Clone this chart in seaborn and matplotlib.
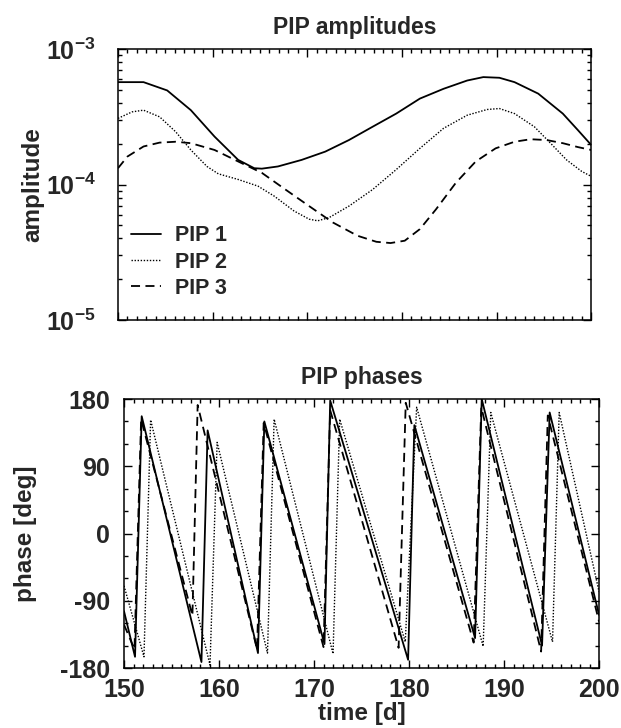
import numpy as np
import pandas as pd
import matplotlib
matplotlib.use('Agg')
import matplotlib.pyplot as plt
import seaborn as sns
from matplotlib.ticker import MultipleLocator, LogLocator, FuncFormatter, NullFormatter

# ---------------- amplitude data ----------------
amp_t1 = [150.0, 152.7, 155.2, 157.7, 160.2, 162.7, 164.4, 165.2, 166.9, 169.4, 171.9, 174.4,
          176.9, 179.4, 181.9, 184.4, 186.9, 188.6, 190.3, 191.9, 194.4, 197.0, 198.6, 200.0]
amp_1 = [5.70e-4, 5.70e-4, 4.95e-4, 3.54e-4, 2.26e-4, 1.52e-4, 1.32e-4, 1.31e-4, 1.36e-4, 1.52e-4,
         1.75e-4, 2.13e-4, 2.67e-4, 3.34e-4, 4.31e-4, 5.09e-4, 5.86e-4, 6.21e-4, 6.14e-4, 5.70e-4,
         4.69e-4, 3.34e-4, 2.52e-4, 1.96e-4]

amp_t2 = [150.0, 151.5, 152.7, 154.4, 156.1, 157.7, 159.4, 160.6, 162.7, 164.8, 166.5, 168.6,
          170.2, 171.1, 172.3, 174.4, 176.9, 179.4, 181.9, 184.4, 186.9, 189.0, 190.3, 191.9,
          194.0, 195.7, 197.4, 199.0, 200.0]
amp_2 = [3.08e-4, 3.44e-4, 3.54e-4, 3.16e-4, 2.45e-4, 1.80e-4, 1.36e-4, 1.20e-4, 1.09e-4, 9.73e-5,
         8.22e-5, 6.38e-5, 5.55e-5, 5.40e-5, 5.70e-5, 6.93e-5, 9.18e-5, 1.29e-4, 1.85e-4, 2.60e-4,
         3.25e-4, 3.58e-4, 3.64e-4, 3.34e-4, 2.67e-4, 2.02e-4, 1.52e-4, 1.25e-4, 1.15e-4]

amp_t3 = [150.0, 151.0, 152.7, 154.4, 156.1, 157.7, 160.2, 162.7, 165.2, 167.7, 170.2, 172.7,
          175.3, 177.3, 178.8, 180.3, 181.9, 183.6, 185.7, 187.8, 189.9, 191.9, 193.6, 195.3,
          197.0, 198.6, 200.0]
amp_3 = [1.32e-4, 1.61e-4, 1.91e-4, 2.04e-4, 2.07e-4, 2.02e-4, 1.80e-4, 1.48e-4, 1.22e-4, 9.18e-5,
         6.93e-5, 5.25e-5, 4.19e-5, 3.78e-5, 3.70e-5, 3.85e-5, 4.69e-5, 6.56e-5, 1.03e-4, 1.48e-4,
         1.85e-4, 2.07e-4, 2.16e-4, 2.13e-4, 2.02e-4, 1.89e-4, 1.80e-4]

# ---------------- phase data ----------------
ph_t1 = [150.0, 151.16, 151.86, 158.15, 158.8, 164.1, 164.77, 171.1, 171.7, 179.9, 180.56,
         186.95, 187.65, 194.0, 194.8, 200.0]
ph_1 = [-104, -165, 157, -172, 138, -160, 150, -148, 178, -169, 145, -140, 180, -150, 162, -109]

ph_t2 = [150.0, 152.1, 152.8, 159.05, 159.8, 165.1, 165.8, 172.0, 172.7, 179.6, 180.8,
         187.8, 188.6, 195.1, 195.8, 200.0]
ph_2 = [-70, -165, 152, -176, 122, -160, 153, -161, 153, -145, 169, -151, 162, -145, 162, -78]

ph_t3 = [150.0, 151.1, 151.8, 157.2, 157.75, 164.0, 164.7, 171.0, 171.7, 178.9, 179.65,
         186.8, 187.6, 193.9, 194.6, 200.0]
ph_3 = [-122, -155, 153, -110, 172, -155, 148, -152, 165, -153, 175, -146, 169, -158, 158, -118]

labels = ['PIP 1', 'PIP 2', 'PIP 3']
xticks = [150, 160, 170, 180, 190, 200]
yticks_phase = [-180, -90, 0, 90, 180]

# ---------------- styling ----------------
sns.set_theme(style='ticks')
plt.rcParams['font.family'] = ['Liberation Sans', 'DejaVu Sans']
plt.rcParams['font.weight'] = 'bold'
plt.rcParams['mathtext.fontset'] = 'custom'
plt.rcParams['mathtext.rm'] = 'Liberation Sans:bold'
plt.rcParams['mathtext.bf'] = 'Liberation Sans:bold'
plt.rcParams['mathtext.default'] = 'bf'
plt.rcParams['axes.linewidth'] = 1.1
plt.rcParams['axes.unicode_minus'] = False

FS_T = 16.5   # titles
FS_L = 17.5   # axis labels
FS_K = 18     # tick labels
FS_G = 15.5   # legend
styles = [dict(ls='-', lw=1.3), dict(ls=(0, (1, 1.2)), lw=1.0), dict(ls=(0, (5, 3)), lw=1.3)]

fig = plt.figure(figsize=(6.21, 7.28), dpi=100)
ax1 = fig.add_axes([0.190, 0.5604, 0.762, 0.3722])
ax2 = fig.add_axes([0.1997, 0.0824, 0.765, 0.3695])

# ---------------- amplitudes ----------------
ax1.set_yscale('log')
for t, a, lab, st in zip([amp_t1, amp_t2, amp_t3], [amp_1, amp_2, amp_3], labels, styles):
    df = pd.DataFrame({'time': t, 'amp': a})
    sns.lineplot(data=df, x='time', y='amp', ax=ax1, color='black', label=lab,
                 estimator=None, legend=False, **st)
ax1.set_xlim(150, 200)
ax1.set_ylim(1e-5, 1e-3)
ax1.set_xlabel('')
ax1.set_ylabel('amplitude', fontsize=FS_L, fontweight='bold', va='center')
ax1.yaxis.set_label_coords(-0.18, 0.5)
ax1.set_title('PIP amplitudes', fontsize=FS_T, fontweight='bold', pad=11)
ax1.xaxis.set_major_locator(MultipleLocator(10))
ax1.xaxis.set_minor_locator(MultipleLocator(1))
ax1.xaxis.set_major_formatter(NullFormatter())
ax1.yaxis.set_major_locator(LogLocator(base=10, numticks=10))
ax1.yaxis.set_minor_locator(LogLocator(base=10, subs=np.arange(2, 10), numticks=10))
ax1.yaxis.set_minor_formatter(NullFormatter())
ax1.yaxis.set_major_formatter(FuncFormatter(lambda v, p: r'$\mathbf{10^{%d}}$' % int(round(np.log10(v)))))
handles, labs = ax1.get_legend_handles_labels()
ax1.legend(handles, labs, loc='upper left', bbox_to_anchor=(0.027, 0.35), frameon=False,
           prop={'weight': 'bold', 'size': FS_G}, handlelength=1.4,
           handletextpad=0.65, labelspacing=0.25, borderpad=0, borderaxespad=0)

# ---------------- phases ----------------
for t, p, lab, st in zip([ph_t1, ph_t2, ph_t3], [ph_1, ph_2, ph_3], labels, styles):
    df = pd.DataFrame({'time': t, 'phase': p})
    sns.lineplot(data=df, x='time', y='phase', ax=ax2, color='black',
                 estimator=None, legend=False, sort=False, **st)
ax2.set_xlim(150, 200)
ax2.set_ylim(-180, 180)
ax2.set_xticks(xticks)
ax2.set_yticks(yticks_phase)
ax2.xaxis.set_minor_locator(MultipleLocator(1))
ax2.yaxis.set_minor_locator(MultipleLocator(30))
ax2.set_xlabel('time [d]', fontsize=FS_L, fontweight='bold', labelpad=0)
ax2.set_ylabel('phase [deg]', fontsize=FS_L, fontweight='bold', va='center')
ax2.yaxis.set_label_coords(-0.208, 0.5)
ax2.set_title('PIP phases', fontsize=FS_T, fontweight='bold', pad=11)

for ax, ypad in ((ax1, 16), (ax2, 10)):
    ax.tick_params(which='both', direction='in', top=True, right=True, color='black', width=1.0)
    ax.tick_params(which='major', length=6)
    ax.tick_params(which='minor', length=3)
    ax.tick_params(axis='y', which='major', labelsize=FS_K, pad=ypad)
    ax.tick_params(axis='x', which='major', labelsize=FS_K, pad=7)
    for lbl in ax.get_xticklabels() + ax.get_yticklabels():
        lbl.set_fontweight('bold')
    for s in ax.spines.values():
        s.set_color('black')

fig.savefig('out.png', dpi=100, facecolor='white')
